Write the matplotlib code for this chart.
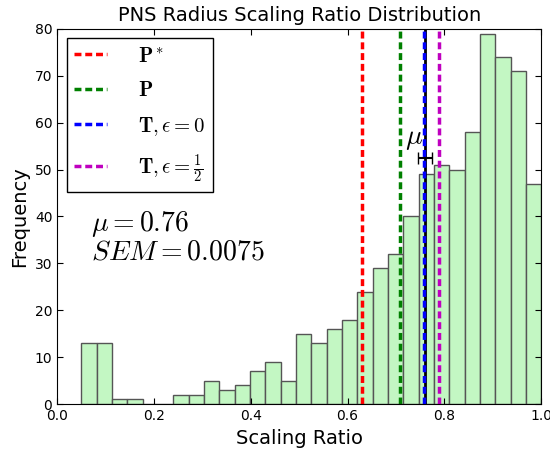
import matplotlib
matplotlib.use("Agg")
import matplotlib.pyplot as plt
import numpy as np

plt.rcParams['mathtext.fontset'] = 'cm'

# histogram counts (30 bins between 0.05 and 1.0)
bin_lo = 0.05
bin_hi = 1.0
counts = [13, 13, 1, 1, 0, 0, 2, 2, 5, 3, 4, 7, 9, 5, 15,
          13, 16, 18, 24, 29, 32, 40, 49, 51, 50, 58, 79, 74, 71, 47]

# reference lines
x_pstar = 0.63
x_p = 0.708
x_t0 = 0.757
x_thalf = 0.788
mu = 0.76
sem = 0.0075
mu_y = 52.5

edges = np.linspace(bin_lo, bin_hi, len(counts) + 1)

fig = plt.figure(figsize=(5.5, 4.51), dpi=100)
ax = fig.add_axes([0.104, 0.104, 0.880, 0.832])

ax.bar(edges[:-1], counts, width=np.diff(edges), align='edge',
       color='#c3f7c3', edgecolor='#555555', linewidth=1.0)

dash = (2.0, 1.1)
ax.axvline(x_pstar, color='r', ls='--', dashes=dash, lw=2.5, label=r'$\mathbf{P}^*$')
ax.axvline(x_p, color='g', ls='--', dashes=dash, lw=2.5, label=r'$\mathbf{P}$')
ax.axvline(mu, color='k', lw=2)
ax.axvline(x_t0, color='b', ls='--', dashes=dash, lw=2.5, label=r'$\mathbf{T}, \epsilon=0$')
ax.axvline(x_thalf, color='m', ls='--', dashes=dash, lw=2.5,
           label=r'$\mathbf{T}, \epsilon=\frac{1}{2}$')

ax.errorbar(mu, mu_y, xerr=1.96 * sem, color='k', capsize=4, lw=1.5)
ax.text(0.719, 55.5, r'$\mu$', fontsize=20)

ax.text(0.07, 36.8, r'$\mu=0.76$', fontsize=20)
ax.text(0.07, 30.8, r'$SEM=0.0075$', fontsize=20)

ax.set_xlim(0, 1.0)
ax.set_ylim(0, 80)
ax.set_xticks(np.arange(0, 1.01, 0.2))
ax.set_yticks(np.arange(0, 81, 10))
ax.tick_params(direction='in', top=True, right=True, labelsize=10, length=4)
ax.set_xlabel('Scaling Ratio', fontsize=14)
ax.set_ylabel('Frequency', fontsize=14)
ax.set_title('PNS Radius Scaling Ratio Distribution', fontsize=14)

leg = ax.legend(loc='upper left', fontsize=15, handlelength=1.6,
                fancybox=False, framealpha=1, edgecolor='k',
                borderpad=0.35, labelspacing=0.7, handletextpad=1.5,
                borderaxespad=0.45)
leg.get_frame().set_linewidth(1.0)

fig.savefig('out.png', dpi=100)
